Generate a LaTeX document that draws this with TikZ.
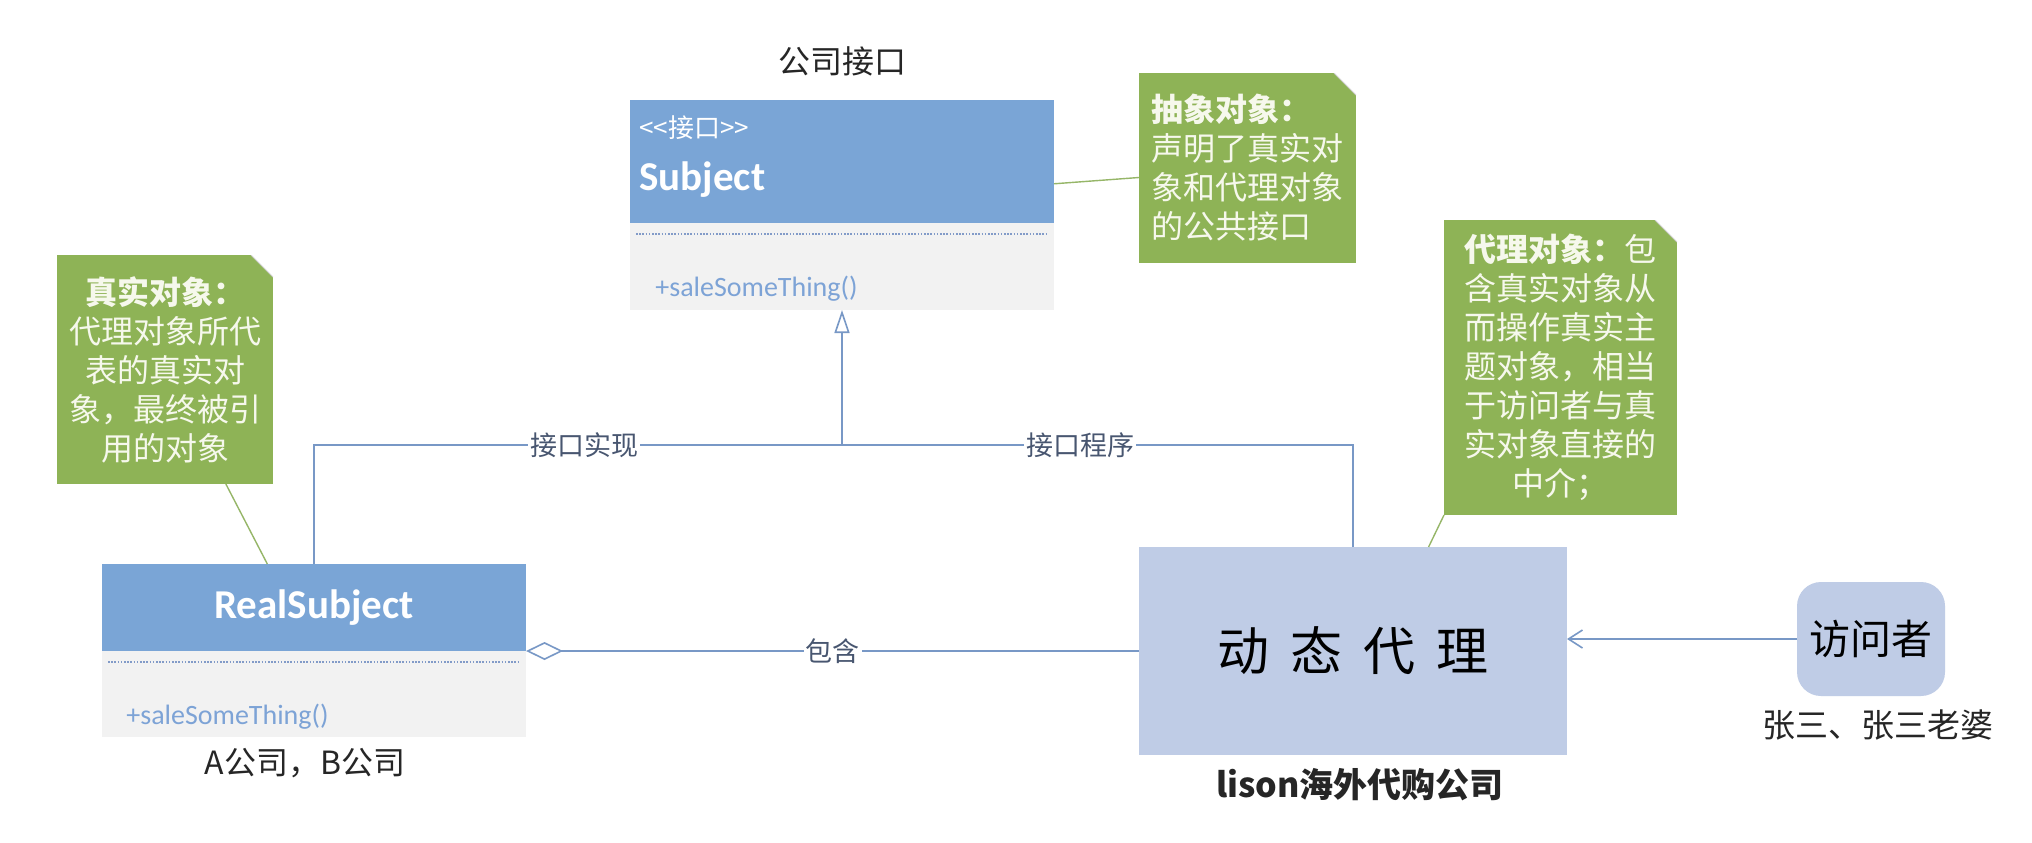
\documentclass[tikz,border=0pt]{standalone}
\usepackage{fontspec}
\setmainfont{Noto Sans CJK SC}
\newfontfamily\calib{Carlito}
\usetikzlibrary{arrows.meta,positioning}
\definecolor{headblue}{RGB}{122,165,214}
\definecolor{bodygrey}{RGB}{242,242,242}
\definecolor{memogreen}{RGB}{142,179,86}
\definecolor{memotext}{RGB}{246,248,236}
\definecolor{memoline}{RGB}{150,182,104}
\definecolor{proxyfill}{RGB}{191,204,230}
\definecolor{wire}{RGB}{120,152,198}
\definecolor{wiretext}{RGB}{72,86,112}
\definecolor{opblue}{RGB}{125,163,214}
\definecolor{sepgrey}{RGB}{130,155,200}
\newcommand{\fsz}[2]{\fontsize{#1}{#2}\selectfont}

\begin{document}
\begin{tikzpicture}[x=0.5pt, y=-0.5pt,
      head/.style={fill=headblue, inner sep=0pt, outer sep=0pt,
                   minimum width=212pt, minimum height=#1},
      body/.style={fill=bodygrey, inner sep=0pt, outer sep=0pt,
                   minimum width=212pt, minimum height=#1},
      stereo/.style={inner sep=0pt, text=white, font=\fsz{13}{15}},
      cname/.style={inner sep=0pt, text=white, font=\calib\bfseries\fsz{20.5}{24}},
      oper/.style={inner sep=0pt, text=opblue, font=\calib\fsz{14}{16}},
      caption/.style={inner sep=0pt, text=black!85, font=\fsz{16}{19}},
      memo/.style={fill=memogreen, text=memotext, inner sep=0pt, outer sep=0pt,
                   font=\fsz{16}{19.5},
                   path picture={
                     \fill[white] ([xshift=-11pt]path picture bounding box.north east)
                       -- (path picture bounding box.north east)
                       -- ([yshift=-11pt]path picture bounding box.north east) -- cycle;
                     \draw[black!18, line width=0.5pt]
                       ([xshift=-11pt]path picture bounding box.north east)
                       -- ([yshift=-11pt]path picture bounding box.north east);}},
      tether/.style={memoline, line width=0.7pt},
      sep/.style={sepgrey, line width=0.6pt, dash pattern=on 0.8pt off 0.8pt},
      wire/.style={draw=wire, line width=0.8pt},
      wlabel/.style={fill=white, inner sep=1pt, text=wiretext, font=\fsz{13.5}{16}},
      proxybox/.style={fill=proxyfill, inner sep=0pt, outer sep=0pt, text=black,
                       font=\fsz{26}{30}},
      caller/.style={fill=proxyfill, rounded corners=12pt, inner sep=0pt, outer sep=0pt,
                     minimum width=74pt, minimum height=57pt, font=\fsz{20.5}{24}}]
    \path[fill=white, use as bounding box] (0,0) rectangle (2032,842);
    % ----- interface Subject
    \node[caption] (subjTitle) at (842,61) {公司接口};
    \node[head=61.5pt] (subjHead) at (842,161.5) {};
    \node[body=43.5pt, anchor=north] (subjBody) at (subjHead.south) {};
    \draw[sep] ([xshift=3pt,yshift=-5.5pt]subjBody.north west)
      -- ([xshift=-3pt,yshift=-5.5pt]subjBody.north east);
    \node[stereo, anchor=west] (subjTag) at (639,128) {{<}{<}接口{>}{>}};
    \node[cname, anchor=west] (subjName) at (639,180) {Subject};
    \node[oper, anchor=west] (subjOp) at (655,289) {+saleSomeThing()};
    % ----- real subject
    \node[head=43.5pt] (realHead) at (314,607.5) {};
    \node[body=43pt, anchor=north] (realBody) at (realHead.south) {};
    \draw[sep] ([xshift=3pt,yshift=-5.5pt]realBody.north west)
      -- ([xshift=-3pt,yshift=-5.5pt]realBody.north east);
    \node[cname] (realName) at (realHead) {RealSubject};
    \node[oper, anchor=west] (realOp) at (126,717) {+saleSomeThing()};
    \node[caption] (realTitle) at (305,763) {A公司，B公司};
    % ----- dynamic proxy and caller
    \node[proxybox, minimum width=214pt, minimum height=104pt] (proxy) at (1353,651)
      {动\hspace{10.5pt}态\hspace{10.5pt}代\hspace{10.5pt}理};
    \node[caption, font=\bfseries\fsz{17}{20}] (proxyTitle) at (1360,785) {lison海外代购公司};
    \node[caller] (visitor) at (1871,639) {访问者};
    \node[caption, font=\fsz{16.5}{19}] (visitorTitle) at (1878,725) {张三、张三老婆};
    % ----- notes
    \node[memo, minimum width=108.5pt, minimum height=95pt, text width=96pt, align=left]
      (absMemo) at (1247.5,168)
      {\textbf{抽象对象：}\\声明了真实对\\象和代理对象\\的公共接口};
    \node[memo, minimum width=108pt, minimum height=114.5pt, align=center]
      (realMemo) at (165,369.5)
      {\textbf{真实对象：}\\代理对象所代\\表的真实对\\象，最终被引\\用的对象};
    \node[memo, minimum width=116.5pt, minimum height=147.5pt, align=center]
      (proxyMemo) at (1560.5,367.5)
      {\textbf{代理对象：}包\\含真实对象从\\而操作真实主\\题对象，相当\\于访问者与真\\实对象直接的\\中介；};
    \draw[tether] (subjHead.-6) -- (absMemo.185);
    \draw[tether] (realMemo.-62) -- (realHead.137);
    \draw[tether] (proxy.54) -- (proxyMemo.south west);
    % ----- realisation, aggregation, call
    \coordinate (jn) at (842,445);
    \draw[wire] (realHead.north) |- (jn) node[pos=0.756, wlabel] {接口实现};
    \draw[wire] (proxy.north) |- (jn) node[pos=0.767, wlabel] {接口程序};
    \draw[wire, -{Triangle[open, length=11.5pt, width=7.5pt, fill=white]}]
      (jn) -- (subjBody.south);
    \draw[wire, -{Diamond[open, length=18.5pt, width=9pt, fill=white]}]
      (proxy.west) -- (realHead.south east) node[midway, wlabel] {包含};
    \draw[wire, -{Straight Barb[length=7pt, width=9pt]}]
      (visitor.west) -- (visitor.west -| proxy.east);
  \end{tikzpicture}
\end{document}
